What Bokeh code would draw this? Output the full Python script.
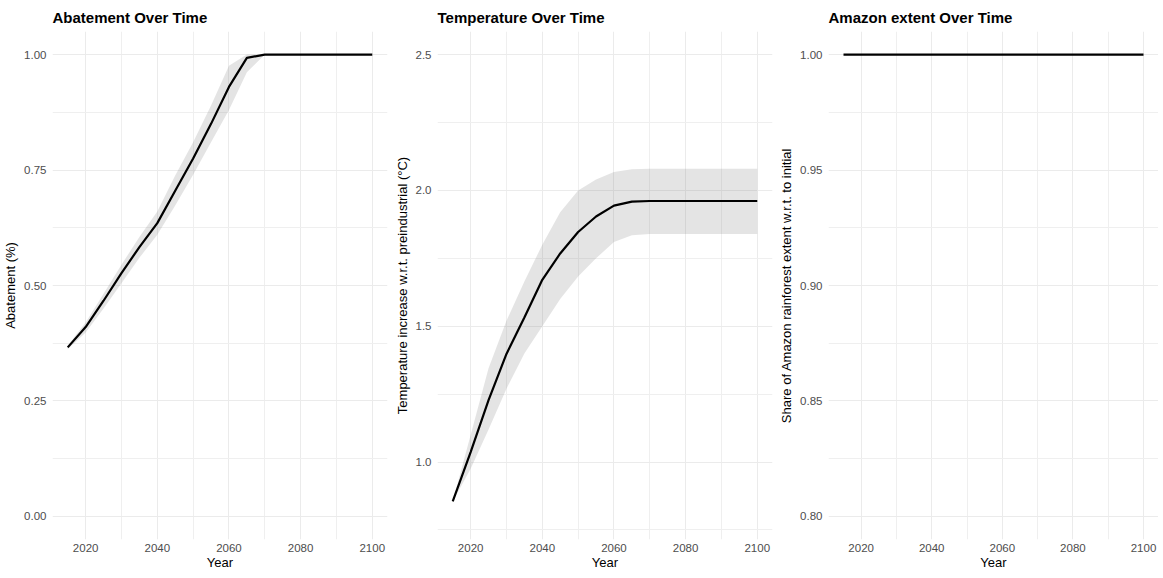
from bokeh.plotting import figure
from bokeh.layouts import row
from bokeh.models import FixedTicker, PrintfTickFormatter, Range1d
from bokeh.embed import file_html
from bokeh.resources import INLINE

years = [2015, 2020, 2025, 2030, 2035, 2040, 2045, 2050, 2055, 2060,
         2065, 2070, 2075, 2080, 2085, 2090, 2095, 2100]

abatement_mean = [0.366, 0.410, 0.467, 0.527, 0.583, 0.635, 0.705, 0.775, 0.850, 0.930,
                  0.993, 1.000, 1.000, 1.000, 1.000, 1.000, 1.000, 1.000]
abatement_low = [0.362, 0.398, 0.450, 0.505, 0.560, 0.610, 0.673, 0.740, 0.810, 0.880,
                 0.962, 1.000, 1.000, 1.000, 1.000, 1.000, 1.000, 1.000]
abatement_high = [0.370, 0.420, 0.482, 0.545, 0.605, 0.660, 0.738, 0.810, 0.890, 0.976,
                  1.000, 1.000, 1.000, 1.000, 1.000, 1.000, 1.000, 1.000]

temp_mean = [0.855, 1.037, 1.228, 1.398, 1.532, 1.671, 1.768, 1.847, 1.904, 1.944,
             1.959, 1.961, 1.961, 1.961, 1.961, 1.961, 1.961, 1.961]
temp_low = [0.855, 0.975, 1.120, 1.270, 1.400, 1.500, 1.600, 1.683, 1.750, 1.810,
            1.835, 1.840, 1.840, 1.840, 1.840, 1.840, 1.840, 1.840]
temp_high = [0.855, 1.100, 1.345, 1.520, 1.665, 1.800, 1.920, 2.000, 2.040, 2.068,
             2.078, 2.080, 2.080, 2.080, 2.080, 2.080, 2.080, 2.080]

amazon_mean = [1.0, 1.0, 1.0, 1.0, 1.0, 1.0, 1.0, 1.0, 1.0, 1.0,
               1.0, 1.0, 1.0, 1.0, 1.0, 1.0, 1.0, 1.0]
amazon_low = [1.0, 1.0, 1.0, 1.0, 1.0, 1.0, 1.0, 1.0, 1.0, 1.0,
              1.0, 1.0, 1.0, 1.0, 1.0, 1.0, 1.0, 1.0]
amazon_high = [1.0, 1.0, 1.0, 1.0, 1.0, 1.0, 1.0, 1.0, 1.0, 1.0,
               1.0, 1.0, 1.0, 1.0, 1.0, 1.0, 1.0, 1.0]

x_major = [2020, 2040, 2060, 2080, 2100]
x_minor = [2030, 2050, 2070, 2090]

FONT = "Liberation Sans"


def make_panel(title, ylabel, mean, low, high, yrange, ymajor, yminor, fmt,
               left, fw, right):
    p = figure(output_backend="svg", toolbar_location=None,
               frame_width=fw, frame_height=508,
               min_border_left=left, min_border_right=right,
               min_border_top=23, min_border_bottom=29,
               x_range=Range1d(2010.75, 2104.25), y_range=Range1d(*yrange),
               title=title)
    p.outline_line_color = None
    p.background_fill_color = "white"
    p.border_fill_color = "white"

    p.title.text_font = FONT
    p.title.text_font_size = "15px"
    p.title.text_font_style = "bold"
    p.title.text_color = "black"
    p.title.align = "left"
    p.title.standoff = 12

    p.varea(x=years, y1=low, y2=high, fill_color="#7f7f7f", fill_alpha=0.21)
    p.line(x=years, y=mean, line_color="black", line_width=2.2)

    p.xaxis.ticker = FixedTicker(ticks=x_major, minor_ticks=x_minor)
    p.yaxis.ticker = FixedTicker(ticks=ymajor, minor_ticks=yminor)
    p.yaxis.formatter = PrintfTickFormatter(format=fmt)

    for ax in (p.xaxis[0], p.yaxis[0]):
        ax.axis_line_color = None
        ax.major_tick_line_color = None
        ax.minor_tick_line_color = None
        ax.major_tick_out = 0
        ax.minor_tick_out = 0
        ax.major_label_text_font = FONT
        ax.major_label_text_font_size = "11.5px"
        ax.major_label_text_color = "#4D4D4D"
        ax.axis_label_text_font = FONT
        ax.axis_label_text_font_size = "13px"
        ax.axis_label_text_font_style = "normal"
        ax.axis_label_text_color = "black"

    p.xaxis.axis_label = "Year"
    p.xaxis.major_label_standoff = 4
    p.xaxis.axis_label_standoff = 0
    p.yaxis.axis_label = ylabel
    p.yaxis.major_label_standoff = 6
    p.yaxis.axis_label_standoff = 3

    for g in (p.xgrid[0], p.ygrid[0]):
        g.grid_line_color = "#EBEBEB"
        g.grid_line_width = 1
        g.minor_grid_line_color = "#EFEFEF"
        g.minor_grid_line_width = 1
    return p


p1 = make_panel("Abatement Over Time", "Abatement (%)",
                abatement_mean, abatement_low, abatement_high,
                (-0.05, 1.05), [0.0, 0.25, 0.5, 0.75, 1.0],
                [0.125, 0.375, 0.625, 0.875], "%.2f", 46, 335, 4)
p2 = make_panel("Temperature Over Time",
                "Temperature increase w.r.t. preindustrial (°C)",
                temp_mean, temp_low, temp_high,
                (0.715, 2.585), [1.0, 1.5, 2.0, 2.5],
                [0.75, 1.25, 1.75, 2.25], "%.1f", 44, 335, 4)
p3 = make_panel("Amazon extent Over Time",
                "Share of Amazon rainforest extent w.r.t. to initial",
                amazon_mean, amazon_low, amazon_high,
                (0.79, 1.01), [0.80, 0.85, 0.90, 0.95, 1.00],
                [0.825, 0.875, 0.925, 0.975], "%.2f", 49, 330, 0)

layout = row(p1, p2, p3)
open("out.html", "w").write(file_html(layout, INLINE))
